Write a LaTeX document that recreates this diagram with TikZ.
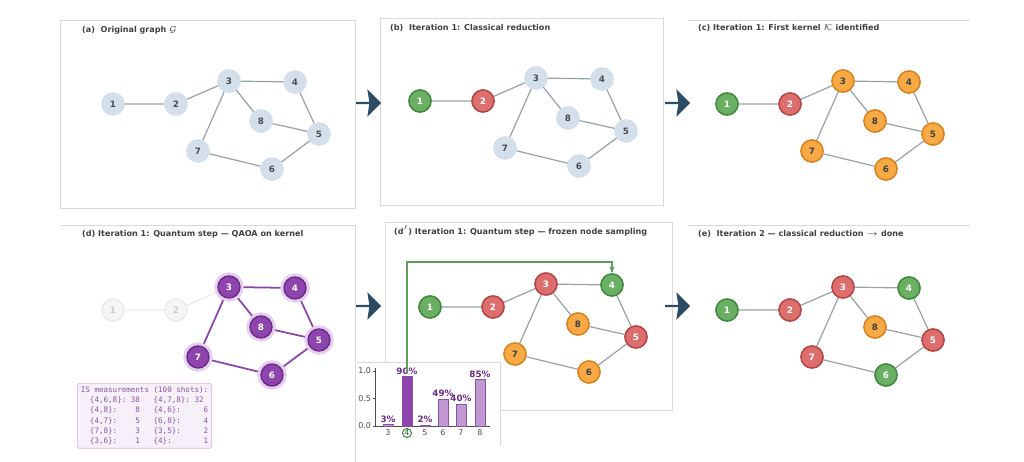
\documentclass[tikz,border=0pt]{standalone}
\usepackage{fontspec}
\setsansfont{DejaVu Sans}
\setmonofont{DejaVu Sans Mono}
\usetikzlibrary{arrows.meta, positioning, shapes.arrows}
\definecolor{blue0}{HTML}{D3DFEA}
\definecolor{gfill}{HTML}{6AAF63}
\definecolor{gdraw}{HTML}{3F8A3C}
\definecolor{rfill}{HTML}{DD6E6E}
\definecolor{rdraw}{HTML}{B84545}
\definecolor{ofill}{HTML}{F7A945}
\definecolor{odraw}{HTML}{D9821E}
\definecolor{pfill}{HTML}{8E44AD}
\definecolor{pdraw}{HTML}{6C2A8A}
\definecolor{pglow}{HTML}{E4CFEF}
\definecolor{edgegray}{HTML}{98A3A8}
\definecolor{navyarrow}{HTML}{2C4C63}
\tikzset{
    panel/.style={draw=black!15, line width=0.5pt},
    ptitle/.style={anchor=west, font=\sffamily\bfseries\fontsize{4.6}{5.5}\selectfont, text=black!75},
    vtx/.style={circle, minimum size=0.44cm, inner sep=0pt, line width=0.8pt, font=\sffamily\bfseries\fontsize{5}{6}\selectfont},
    plain/.style={vtx, fill=blue0, draw=blue0, text=black!70},
    keep/.style={vtx, fill=gfill, draw=gdraw, text=white},
    drop/.style={vtx, fill=rfill, draw=rdraw, text=white},
    kern/.style={vtx, fill=ofill, draw=odraw, text=black!75},
    quant/.style={vtx, fill=pfill, draw=pdraw, text=white, preaction={draw=pglow, line width=4pt}},
    faded/.style={vtx, fill=black!4, draw=black!8, text=black!20},
    edge/.style={draw=edgegray, line width=0.7pt},
    qedge/.style={draw=pfill, line width=1pt},
    fedge/.style={draw=black!8, line width=0.7pt},
    stepar/.style={single arrow, fill=navyarrow, minimum height=0.5cm, minimum width=0.55cm, single arrow head extend=0.08cm, single arrow head indent=0.04cm, inner sep=0pt},
    bar/.style={fill=pfill!55, draw=pdraw!80, line width=0.4pt},
    pct/.style={font=\sffamily\bfseries\fontsize{5}{6}\selectfont, text=pdraw, above, inner sep=1pt}
}
\newcommand\graphat[4]{% prefix, dx, dy, styles of nodes 1..8
  \foreach \n/\x/\y [count=\i] in {1/113/104,2/176/104,3/229/81,4/295/82,5/319/134,6/272/169,7/198/151,8/261/121}{
    \pgfmathparse{{#4}[\i-1]}\edef\st{\pgfmathresult}
    \node[\st] (#1\n) at (\x+#2,\y+#3) {\n};
  }
}
\newcommand\edgesof[2]{% prefix, style
  \draw[#2] (#11) -- (#12) (#12) -- (#13) (#13) -- (#14) (#13) -- (#18) (#13) -- (#17)
    (#14) -- (#15) (#18) -- (#15) (#17) -- (#16) (#16) -- (#15);
}
\begin{document}
\begin{tikzpicture}[x=0.02cm, y=-0.02cm]
\useasboundingbox (0,0) rectangle (1024,462);

% panels
\draw[panel] (60,20) rectangle (355,208);
\draw[panel] (380,18) rectangle (663,205);
\draw[panel] (688,20) -- (970,20);
\draw[panel] (60,225) -- (355,225) -- (355,462);
\draw[panel] (385,222) rectangle (672,410);
\draw[panel] (688,225) -- (970,225);

\node[ptitle] (ta) at (76,30) {(a)\ \ Original graph $\mathcal{G}$};
\node[ptitle] (tb) at (384,28) {(b)\ \ Iteration 1: Classical reduction};
\node[ptitle] (tc) at (692,28) {(c) Iteration 1: First kernel $\mathcal{K}$ identified};
\node[ptitle] (td) at (76,234) {(d) Iteration 1: Quantum step --- QAOA on kernel};
\node[ptitle] (tdd) at (388,231) {(d$'$) Iteration 1: Quantum step --- frozen node sampling};
\node[ptitle] (te) at (692,234) {(e)\ \ Iteration 2 --- classical reduction $\rightarrow$ done};

% step arrows
\node[stepar] (s1) at (368,103) {};
\node[stepar] (s2) at (677,103) {};
\node[stepar] (s3) at (368,306) {};
\node[stepar] (s4) at (677,306) {};

% graphs: nodes first for names, then edges, then nodes again on top
\graphat{a}{0}{0}{"plain","plain","plain","plain","plain","plain","plain","plain"}
\graphat{b}{307}{-3}{"keep","drop","plain","plain","plain","plain","plain","plain"}
\graphat{c}{614}{0}{"keep","drop","kern","kern","kern","kern","kern","kern"}
\graphat{d}{0}{206}{"faded","faded","quant","quant","quant","quant","quant","quant"}
\graphat{p}{317}{203}{"keep","drop","drop","keep","drop","kern","kern","kern"}
\graphat{e}{614}{206}{"keep","drop","drop","keep","drop","keep","drop","kern"}
\foreach \g in {a,b,c,p,e}{\edgesof{\g}{edge}}
\draw[fedge] (d1) -- (d2) (d2) -- (d3);
\draw[qedge] (d3) -- (d4) (d3) -- (d8) (d3) -- (d7) (d4) -- (d5) (d8) -- (d5) (d7) -- (d6) (d6) -- (d5);
\graphat{a}{0}{0}{"plain","plain","plain","plain","plain","plain","plain","plain"}
\graphat{b}{307}{-3}{"keep","drop","plain","plain","plain","plain","plain","plain"}
\graphat{c}{614}{0}{"keep","drop","kern","kern","kern","kern","kern","kern"}
\graphat{d}{0}{206}{"faded","faded","quant","quant","quant","quant","quant","quant"}
\graphat{p}{317}{203}{"keep","drop","drop","keep","drop","kern","kern","kern"}
\graphat{e}{614}{206}{"keep","drop","drop","keep","drop","keep","drop","kern"}

% measurement box
\node[draw=pfill!40, fill=pfill!8, rounded corners=1pt, anchor=north west, inner sep=2pt, align=left,
  font=\ttfamily\fontsize{4.3}{5.8}\selectfont, text=pdraw!80] (meas) at (77,383) {%
IS measurements (100 shots):\\
\ \ \{4,6,8\}: 38\ \ \ \{4,7,8\}: 32\\
\ \ \{4,8\}:\ \ \ \ 8\ \ \ \{4,6\}:\ \ \ \ \ 6\\
\ \ \{4,7\}:\ \ \ \ 5\ \ \ \{6,8\}:\ \ \ \ \ 4\\
\ \ \{7,8\}:\ \ \ \ 3\ \ \ \{3,5\}:\ \ \ \ \ 2\\
\ \ \{3,6\}:\ \ \ \ 1\ \ \ \{4\}:\ \ \ \ \ \ \ 1};

% bar chart
\fill[white] (357,362) rectangle (500,446);
\draw[black!15] (357,362) -- (500,362) (500,362) -- (500,446);
\draw[black!70, line width=0.4pt] (375,368) -- (375,426) -- (490,426);
\foreach \v/\lab in {0/0.0,0.5/0.5,1/1.0}{
  \draw[black!70, line width=0.4pt] (375,426-55*\v) -- ++(-2,0)
    node[left, font=\sffamily\fontsize{4.5}{5}\selectfont, text=black!70, inner sep=1pt] {\lab};
}
\foreach \x/\v/\p/\lab [count=\k] in {388/0.03/3/3,407/0.9/90/4,425/0.02/2/5,443/0.49/49/6,461/0.4/40/7,480/0.85/85/8}{
  \draw[bar] (\x-5,426) rectangle (\x+5,426-55*\v);
  \node[pct] (pc\k) at (\x,426-55*\v) {\p\%};
  \node[font=\sffamily\fontsize{4.5}{5}\selectfont, text=black!70, inner sep=1pt] (xl\k) at (\x,433) {\lab};
}
\fill[pfill] (402,426) rectangle (412,376.5);
\draw[gdraw, line width=0.6pt] (xl2) circle (4.5);
\coordinate (barfour) at (407,372);
\draw[gfill!90!black, line width=0.8pt, -{Stealth[length=4pt]}] (barfour) -- (407,262) -| (p4);
\end{tikzpicture}
\end{document}
